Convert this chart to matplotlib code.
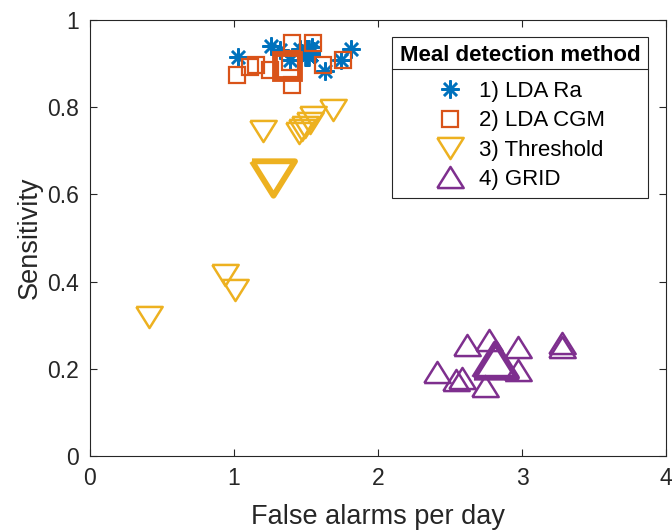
import numpy as np
import matplotlib
matplotlib.use("Agg")
import matplotlib.pyplot as plt
from matplotlib.lines import Line2D

plt.rcParams['font.family'] = ['Liberation Sans', 'DejaVu Sans']

# individual subjects (false alarms per day, sensitivity)
lda_ra_fa = [1.03, 1.26, 1.32, 1.39, 1.46, 1.54, 1.63, 1.74, 1.81]
lda_ra_sens = [0.915, 0.940, 0.931, 0.908, 0.933, 0.938, 0.883, 0.908, 0.933]
lda_ra_mean = (1.51, 0.924)

lda_cgm_fa = [1.02, 1.11, 1.15, 1.25, 1.40, 1.55, 1.40, 1.39, 1.62, 1.76]
lda_cgm_sens = [0.874, 0.892, 0.897, 0.885, 0.947, 0.947, 0.851, 0.904, 0.897, 0.908]
lda_cgm_mean = (1.37, 0.894)

thr_fa = [1.20, 1.69, 1.55, 1.53, 1.49, 1.47, 1.45, 0.94, 1.01, 0.41]
thr_sens = [0.745, 0.794, 0.778, 0.764, 0.755, 0.748, 0.741, 0.415, 0.381, 0.319]
thr_mean = (1.27, 0.638)

grid_fa = [2.41, 2.54, 2.58, 2.62, 2.77, 2.97, 2.97, 2.74, 3.28, 3.28]
grid_sens = [0.193, 0.174, 0.179, 0.255, 0.266, 0.250, 0.197, 0.161, 0.259, 0.250]
grid_mean = (2.81, 0.220)

labels = ["1) LDA Ra", "2) LDA CGM", "3) Threshold", "4) GRID"]
colors = ["#0072BD", "#D95319", "#EDB120", "#7E2F8E"]

# MATLAB-like markers (triangles wider than tall)
tri_down = [(-1, 0.8), (1, 0.8), (0, -0.8), (-1, 0.8)]
tri_up = [(-1, -0.8), (1, -0.8), (0, 0.8), (-1, -0.8)]
asterisk = (8, 2, 0)

series = [
    (lda_ra_fa, lda_ra_sens, lda_ra_mean, asterisk, 13, 19, 1.8),
    (lda_cgm_fa, lda_cgm_sens, lda_cgm_mean, "s", 12, 18, 1.6),
    (thr_fa, thr_sens, thr_mean, tri_down, 19, 31, 1.8),
    (grid_fa, grid_sens, grid_mean, tri_up, 19, 31, 1.8),
]

fig = plt.figure(figsize=(6.72, 5.31), dpi=100)
ax = fig.add_axes([90 / 672, 75 / 531, 576 / 672, 436 / 531])

for (xs, ys, mean, mk, ms, ms_big, lw), lab, c in zip(series, labels, colors):
    ax.plot(xs, ys, linestyle="none", marker=mk, markersize=ms,
            markerfacecolor="none", markeredgecolor=c, markeredgewidth=lw,
            label=lab)
    ax.plot([mean[0]], [mean[1]], linestyle="none", marker=mk, markersize=ms_big,
            markerfacecolor="none", markeredgecolor=c, markeredgewidth=4.2)

ax.set_xlim(0, 4)
ax.set_ylim(0, 1)
ax.set_xticks([0, 1, 2, 3, 4])
ax.set_yticks([0, 0.2, 0.4, 0.6, 0.8, 1])
ax.set_yticklabels(["0", "0.2", "0.4", "0.6", "0.8", "1"])
ax.tick_params(direction="in", length=5, width=0.8, labelsize=16.5,
               colors="#262626", top=True, right=True, pad=8)
for sp in ax.spines.values():
    sp.set_color("#262626")
    sp.set_linewidth(0.8)

ax.set_xlabel("False alarms per day", fontsize=19.5, color="#262626", labelpad=10)
ax.set_ylabel("Sensitivity", fontsize=19.5, color="#262626", labelpad=3)

leg = ax.legend(loc="upper right", bbox_to_anchor=(0.969, 0.962),
                title="Meal detection method", fontsize=16,
                title_fontproperties={"weight": "bold", "size": 16},
                fancybox=False, framealpha=1, edgecolor="#262626",
                borderpad=0.36, labelspacing=0.38, handlelength=1.4,
                handletextpad=0.6, borderaxespad=0)
leg.get_frame().set_linewidth(0.8)
# wider gap between title and entries only
leg._legend_box.sep = 11

# separator line under the legend title
fig.canvas.draw()
fb = leg.get_frame().get_window_extent()
tb = leg.get_title().get_window_extent()
inv = fig.transFigure.inverted()
yline = tb.y0 - 3
p0 = inv.transform((fb.x0, yline))
p1 = inv.transform((fb.x1, yline))
fig.add_artist(Line2D([p0[0], p1[0]], [p0[1], p1[1]], color="#262626", lw=0.8))

fig.savefig("out.png", dpi=100)
